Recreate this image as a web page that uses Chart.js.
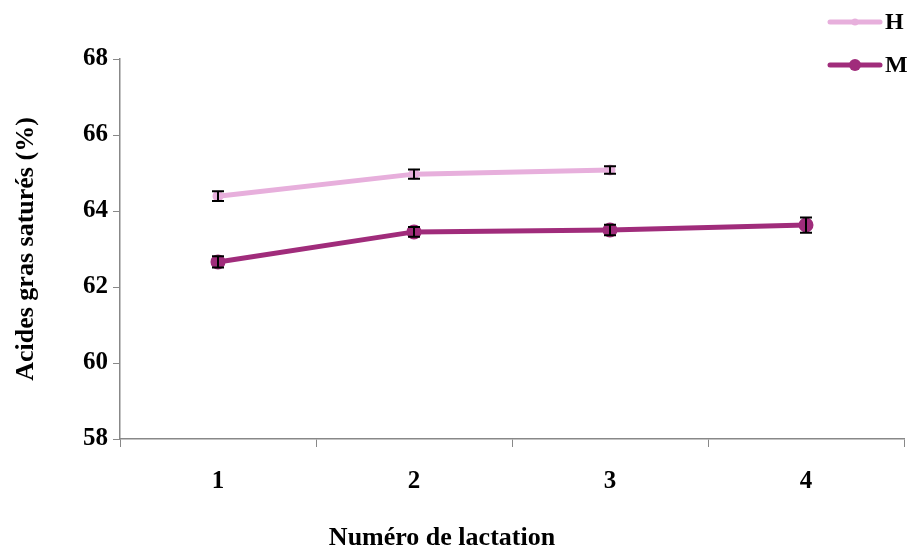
<!DOCTYPE html>
<html>
<head>
<meta charset="utf-8">
<script src="https://cdn.jsdelivr.net/npm/chart.js@4"></script>
<style>
  html, body { margin: 0; padding: 0; background: #fff; }
  #wrap { width: 914px; height: 549px; }
</style>
</head>
<body>
<div id="wrap"><canvas id="c" width="914" height="549"></canvas></div>
<script>
// données
const lactations = ['1', '2', '3', '4'];
const valH = [64.39, 64.97, 65.08, null];
const errH = [0.13, 0.12, 0.10, null];
const valM = [62.66, 63.45, 63.50, 63.63];
const errM = [0.15, 0.13, 0.14, 0.20];
const yTicks = [58, 60, 62, 64, 66, 68];

const colH = '#e7afdc';
const colM = '#a02c7b';
const font = 'Liberation Serif, Times New Roman, serif';

// barres d'erreur dessinées avec les échelles
const errorBars = {
  id: 'errorBars',
  afterDatasetsDraw(chart) {
    const { ctx, scales: { x, y } } = chart;
    ctx.save();
    ctx.strokeStyle = '#000';
    ctx.lineWidth = 2;
    chart.data.datasets.forEach(ds => {
      ds.data.forEach((v, i) => {
        if (v == null || ds.err[i] == null) return;
        const px = x.getPixelForValue(i);
        const top = y.getPixelForValue(v + ds.err[i]);
        const bot = y.getPixelForValue(v - ds.err[i]);
        ctx.beginPath();
        ctx.moveTo(px, top); ctx.lineTo(px, bot);
        ctx.moveTo(px - 6, top); ctx.lineTo(px + 6, top);
        ctx.moveTo(px - 6, bot); ctx.lineTo(px + 6, bot);
        ctx.stroke();
      });
    });
    ctx.restore();
  }
};

// légende en haut à droite + titre de l'axe x (décalé à gauche comme l'original)
const legendBox = {
  id: 'legendBox',
  afterDraw(chart) {
    const { ctx } = chart;
    const items = [
      { label: 'H', color: colH, r: 2.5, y: 22 },
      { label: 'M', color: colM, r: 5, y: 65 }
    ];
    ctx.save();
    items.forEach(it => {
      ctx.strokeStyle = it.color;
      ctx.lineWidth = 5;
      ctx.lineCap = 'round';
      ctx.beginPath();
      ctx.moveTo(830, it.y); ctx.lineTo(880, it.y);
      ctx.stroke();
      ctx.fillStyle = it.color;
      ctx.beginPath();
      ctx.arc(855, it.y, it.r + 1, 0, Math.PI * 2);
      ctx.fill();
      ctx.fillStyle = '#000';
      ctx.font = 'bold 24px ' + font;
      ctx.textBaseline = 'middle';
      ctx.textAlign = 'left';
      ctx.fillText(it.label, 885, it.y + 1);
    });
    ctx.font = 'bold 26px ' + font;
    ctx.textAlign = 'center';
    ctx.textBaseline = 'middle';
    ctx.fillStyle = '#000';
    ctx.fillText('Numéro de lactation', 442, 538);
    ctx.restore();
  }
};

new Chart(document.getElementById('c'), {
  type: 'line',
  data: {
    labels: lactations,
    datasets: [
      { label: 'H', data: valH, err: errH, borderColor: colH, backgroundColor: colH,
        borderWidth: 5, pointRadius: 3, pointStyle: 'circle', tension: 0, spanGaps: false },
      { label: 'M', data: valM, err: errM, borderColor: colM, backgroundColor: colM,
        borderWidth: 5, pointRadius: 5, pointStyle: 'circle', tension: 0 }
    ]
  },
  options: {
    responsive: false,
    animation: false,
    layout: { padding: { top: 59, right: 7, left: 0, bottom: 0 } },
    plugins: { legend: { display: false }, tooltip: { enabled: false } },
    scales: {
      x: {
        offset: true,
        grid: { drawOnChartArea: false, color: '#888', tickLength: 8, offset: true },
        border: { color: '#888', width: 1.5 },
        ticks: { color: '#000', padding: 20, font: { family: font, size: 25, weight: 'bold' } },
        title: { display: false },
        afterFit(s) { s.height = 110; }
      },
      y: {
        min: 58, max: 68,
        afterBuildTicks(s) { s.ticks = yTicks.map(v => ({ value: v })); },
        grid: { drawOnChartArea: false, color: '#888', tickLength: 7 },
        border: { color: '#888', width: 1.5 },
        ticks: { color: '#000', padding: 5, font: { family: font, size: 25, weight: 'bold' } },
        title: { display: true, text: 'Acides gras saturés (%)', color: '#000', padding: { top: 11, bottom: 11 },
          font: { family: font, size: 26, weight: 'bold' } },
        afterFit(s) { s.width = 120; }
      }
    }
  },
  plugins: [errorBars, legendBox]
});
</script>
</body>
</html>
